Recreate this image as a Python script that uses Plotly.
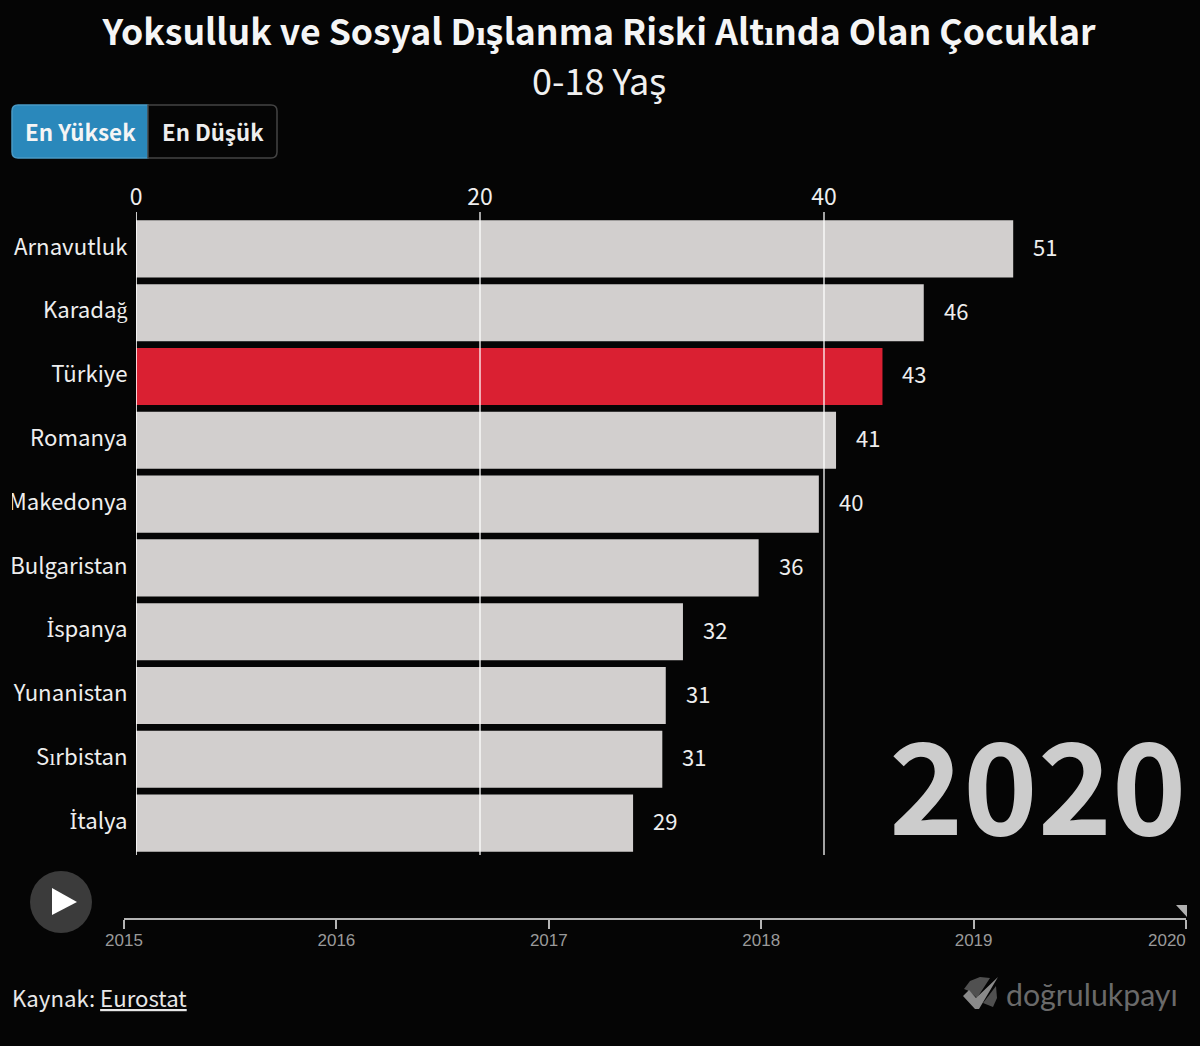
import plotly.graph_objects as go

W, H = 1200, 1046

countries = ["Arnavutluk", "Karadağ", "Türkiye", "Romanya", "Makedonya",
             "Bulgaristan", "\u0130spanya", "Yunanistan", "Sırbistan", "\u0130talya"]
values = [51.0, 45.8, 43.4, 40.7, 39.7, 36.2, 31.8, 30.8, 30.6, 28.9]
value_labels = ["51", "46", "43", "41", "40", "36", "32", "31", "31", "29"]
highlight = "Türkiye"
x_ticks = [0, 20, 40]
years = [2015, 2016, 2017, 2018, 2019, 2020]
year_labels = ["2015", "2016", "2017", "2018", "2019", ""]

BG = "#050505"
FONT = "Noto Sans CJK JP"


def px(v):
    return v / W


def py(v):
    return 1 - v / H


def fix_glyphs(text):
    # the CJK font has no dotted capital I or s-cedilla, take those from Noto Sans
    for ch in ("\u0130", "\u015f"):
        text = text.replace(ch, f'<span style="font-family:Noto Sans">{ch}</span>')
    return text


def label(x, y, text, size, color, anchor="center", family=FONT):
    fig.add_annotation(x=px(x), y=py(y), xref="paper", yref="paper", text=fix_glyphs(text),
                       showarrow=False, xanchor=anchor, yanchor="middle",
                       font=dict(family=family, size=size, color=color))


def poly(points, fill):
    path = "M " + " L ".join(f"{px(a)} {py(b)}" for a, b in points) + " Z"
    fig.add_shape(type="path", xref="paper", yref="paper", path=path, fillcolor=fill, line_width=0)


def rounded_box(x0, x1, y0, y1, fill, line, side):
    # box with two rounded corners, on the side given
    r = 6
    if side == "left":
        path = (f"M {px(x1)} {py(y0)} L {px(x0 + r)} {py(y0)} Q {px(x0)} {py(y0)} {px(x0)} {py(y0 + r)} "
                f"L {px(x0)} {py(y1 - r)} Q {px(x0)} {py(y1)} {px(x0 + r)} {py(y1)} L {px(x1)} {py(y1)} Z")
    else:
        path = (f"M {px(x0)} {py(y0)} L {px(x1 - r)} {py(y0)} Q {px(x1)} {py(y0)} {px(x1)} {py(y0 + r)} "
                f"L {px(x1)} {py(y1 - r)} Q {px(x1)} {py(y1)} {px(x1 - r)} {py(y1)} L {px(x0)} {py(y1)} Z")
    fig.add_shape(type="path", xref="paper", yref="paper", layer="above", path=path,
                  fillcolor=fill, line=dict(color=line, width=1.5))


fig = go.Figure()

colors = ["#da2032" if c == highlight else "#d2cfce" for c in countries]
fig.add_trace(go.Bar(x=values, y=countries, orientation="h",
                     marker=dict(color=colors, line_width=0), width=0.895,
                     hoverinfo="x+y", showlegend=False))

# empty trace so the year timeline axis gets drawn
fig.add_trace(go.Scatter(x=years, y=[0] * len(years), xaxis="x2", yaxis="y2",
                         mode="none", showlegend=False, hoverinfo="skip"))

tick_text = [fix_glyphs(c) for c in countries]

fig.update_layout(
    width=W, height=H,
    margin=dict(l=0, r=0, t=0, b=0, autoexpand=False),
    paper_bgcolor=BG, plot_bgcolor=BG,
    font=dict(family=FONT, color="#f0f0f0", size=22),
    title=dict(text=fix_glyphs("<b>Yoksulluk ve Sosyal Dışlanma Riski Altında Olan Çocuklar</b>"),
               x=0.4992, xanchor="center", y=py(33), yanchor="middle",
               font=dict(family=FONT, size=35.6, color="#f5f5f5")),
    xaxis=dict(domain=[px(136), 1], range=[0, (W - 136) / 17.2], side="top",
               anchor="y", tickvals=x_ticks, showgrid=False, zeroline=False, automargin=False,
               ticks="outside", ticklen=2, tickcolor=BG, tickwidth=0.01, showline=False,
               tickfont=dict(size=23, color="#eeeeee")),
    yaxis=dict(domain=[py(855), py(217)], type="category", autorange="reversed", automargin=False,
               tickmode="array", tickvals=countries, ticktext=tick_text, ticklabelshift=2,
               ticks="outside", ticklen=3, tickcolor=BG, tickwidth=0.01,
               showgrid=False, zeroline=False, showline=False,
               tickfont=dict(size=22.2, color="#eeeeee")),
    xaxis2=dict(domain=[px(124), px(1186)], range=[2015, 2020], anchor="y2", automargin=False,
                tickvals=years, ticktext=year_labels, ticks="outside", ticklen=9, ticklabelstandoff=-3,
                tickwidth=1.5, tickcolor="#b5b5b5", showgrid=False, zeroline=False,
                showline=True, linecolor="#b5b5b5", linewidth=2,
                tickfont=dict(family="Liberation Sans", size=17, color="#9a9a9a")),
    yaxis2=dict(domain=[py(918), py(917)], range=[0, 1], visible=False, fixedrange=True, automargin=False),
)

# grid lines run over the bars
for t in x_ticks:
    fig.add_shape(type="line", xref="x", yref="paper", x0=t, x1=t, y0=py(855), y1=py(212),
                  line=dict(color="rgba(255,255,255,0.8)" if t else "#ffffff", width=1.6),
                  layer="above")

# value labels next to bars
for c, v, lab in zip(countries, values, value_labels):
    fig.add_annotation(x=v, y=c, xref="x", yref="y", text=lab, showarrow=False, yshift=3,
                       xanchor="left", xshift=18, font=dict(size=22, color="#eeeeee"))

# left edge clips the longest country label in the original
fig.add_shape(type="rect", xref="paper", yref="paper", x0=0, x1=px(12), y0=py(520), y1=py(485),
              fillcolor=BG, line_width=0, layer="above")

# toggle buttons
rounded_box(12, 148, 105, 158, "#2a88bb", "#4a9ac6", "left")
rounded_box(148, 277, 105, 158, BG, "#444444", "right")
label(80.5, 131, "<b>En Yüksek</b>", 22.4, "#f5f5f5")
label(213, 131, "<b>En Düşük</b>", 22.2, "#eeeeee")

# subtitle, big year, source
label(599, 79, "0-18 Yaş", 36, "#f0f0f0")
label(1037, 780, "<b>2020</b>", 126, "#cccccc")
label(10, 997, "Kaynak: <u>Eurostat</u>", 22.2, "#e8e8e8", anchor="left")
label(1188, 940, "2020", 17, "#9a9a9a", anchor="right", family="Liberation Sans")

# play button and slider handle
fig.add_shape(type="circle", xref="paper", yref="paper", x0=px(30), x1=px(92), y0=py(933), y1=py(871),
              fillcolor="#3b3b3b", line_width=0)
poly([(52, 888), (77, 902), (52, 915)], "#ffffff")
poly([(1176, 905), (1187, 905), (1187, 917)], "#b0b0b0")

# logo
label(1004, 994, "doğrulukpayı", 30.3, "#6a6a6a", anchor="left", family="Lato")
poly([(964, 989), (970, 981), (980, 977), (990, 978), (977, 998), (969, 991)], "#505050")
poly([(996, 986), (997, 998), (993, 1007), (983, 1003)], "#505050")
poly([(963, 996), (969, 990), (976, 998), (998, 977), (979, 1009), (975, 1009)], "#8a8a8a")

fig.write_html("out.html", config={"displayModeBar": False},
               post_script="document.body.style.margin='0';document.body.style.background='#050505';")
